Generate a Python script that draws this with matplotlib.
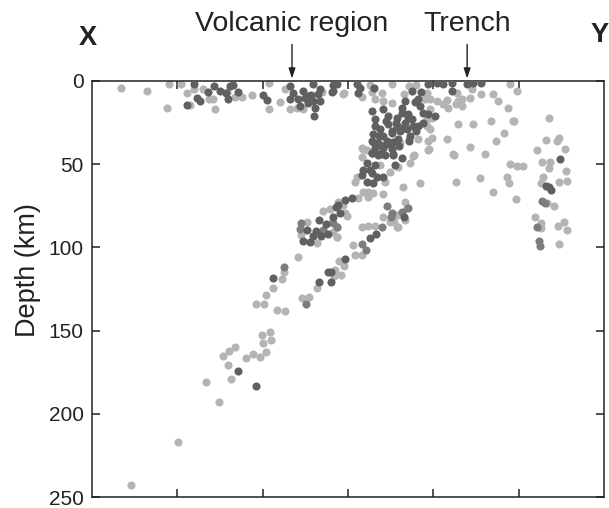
import matplotlib
matplotlib.use("Agg")
import matplotlib.pyplot as plt

plt.rcParams['font.family'] = ['Liberation Sans', 'DejaVu Sans']

# distance along profile (km) and depth (km)
light_x = [17, 32, 45, 44, 52, 55.5, 60, 65, 68.6, 70.7, 72, 79, 84, 88, 94, 104, 104, 110, 113, 116, 120, 123.6, 134.6, 57.4,
           147.7, 147, 158, 163, 164, 170, 166, 176, 186, 190, 183, 196, 214, 208, 222.5, 221.5, 217, 228, 235, 245, 249, 238, 244, 247, 268, 214.5, 216.6, 213,
           170.3, 175.6, 195.1, 198, 202, 205.9, 208.8, 198, 199.1, 196.1,
           196, 198, 199, 197, 191, 186, 180.5, 214.6, 223.4, 233.6, 246.5, 241.4, 236.6, 221.5, 208.2, 197.5, 188.7, 211.7, 230.3, 260.6, 266, 272.3, 273.8, 277.2, 158.6,
           158, 161, 158, 168.8, 179.5, 186.3, 188.3, 197.1, 155.1, 154.1, 171.7, 174.6, 182.4, 192.2, 213.3, 212.1, 159, 161.9, 164.8, 161.9, 170.3, 156, 144.3, 148.3, 183.4, 184.4,
           178.6, 170.7, 179.5, 158, 161.9, 165.8, 143.4, 174.6, 183.4, 177, 179,
           153.1, 158, 154.1, 144.7, 147.7, 145.7, 141.8, 142.4, 143.7, 149.2, 147.3,
           135.5, 139.5, 126.2, 140.5, 122.5, 141.4, 131.7, 143.7, 120.5,
           112.5, 111.2, 106.2, 102, 96.1, 101, 108.2, 113.3,
           131.7, 127.3, 122.9,
           99.8, 104.3, 100, 104.7, 76.6, 80.5, 84, 79.7, 90.2, 94.5, 98.4, 101.8, 81.6, 66.8, 74.4, 50.6, 22.9,
           245, 248.9, 252.4, 227.4, 243.4, 244.4, 235.2, 248.3,
           263.5, 268.4, 268, 277.6, 278.2, 273.8, 264.5, 263.1, 266.8, 270.9, 259.6, 262.9, 263.1, 272.9, 276.6, 278.5, 273.8]
light_d = [4, 6, 2, 16, 2, 7, 5, 4.6, 10.6, 10.8, 16.8, 6.6, 9.6, 9.4, 8.2, 1.2, 16.6, 12.6, 4.6, 16.8, 16.2, 16.8, 6.6, 14.4,
           7.2, 7.8, 9.4, 2.4, 6.6, 7, 10.6, 2, 3, 2.6, 7.8, 7, 7, 11.4, 5, 10, 10.6, 8, 8, 2, 6, 12, 16, 24, 22, 12, 15, 13.8,
           12, 13, 11, 11, 12, 14, 16, 17, 22, 22.7,
           27, 29, 34, 36, 35, 35, 37, 26, 26, 24, 24, 31, 36, 39.5, 35, 41, 44.7, 44, 44, 41.5, 35.5, 36, 34, 40.7, 41,
           40.5, 41.5, 45.5, 50.5, 51.5, 49.5, 45, 41.5, 57.5, 60.5, 60.5, 54.5, 63.5, 61.5, 60.5, 44.5, 66.5, 66.5, 67.5, 69.5, 68, 70.5, 72.5, 79.5, 72.5, 76.5,
           80.5, 81.5, 87.5, 88, 87, 87, 87.5, 84.5, 83.5, 85, 88,
           98.5, 104.5, 104.5, 108, 111, 116.5, 117, 113.5, 93.5, 81, 74.5,
           78, 77, 84.5, 84.5, 92.5, 90.5, 97.5, 94, 105.5,
           115, 119, 124.5, 128.5, 134, 134, 137.5, 138.5,
           124.5, 130, 130.5,
           152.5, 151, 157.5, 155.5, 165, 162, 160, 170.5, 166.5, 164, 166, 163, 179, 181, 193, 217, 242.5,
           50, 51, 51, 58.5, 57.5, 61, 67, 71,
           48.5, 48.5, 52, 54, 60, 60.5, 57.5, 61, 73.5, 75, 81.5, 85.5, 88.5, 87, 84.5, 89.5, 98]

mid_x = [173, 175.6, 181.5, 185.4, 169.8, 175, 158.4, 160.6, 141.4, 143.7, 122.3, 121.9, 135.2, 112.5, 125.4,
         263.9, 265.4, 260.6, 262.1, 262.5]
mid_d = [75, 79.5, 78.5, 76.5, 88, 81.5, 98, 101.5, 85.5, 88, 85.5, 89, 89.5, 111.5, 134,
         72, 73.5, 87.5, 96, 99]

dark_x = [59.8, 55.5, 61.5, 63.3, 68, 71.5, 75, 78.3, 79.7, 80.9, 82.6, 85.6, 100.2, 102.4, 116, 116, 117.8, 120.7, 123.6, 126.6,
          129.5, 129.5, 132.4, 133.6, 130.7, 130.1, 133.6, 126.6, 121.9, 143.4, 140.6, 124.8, 128.3,
          141, 141, 155, 157, 156, 165, 187.5, 192.6, 197, 202, 205.7, 211, 211, 219.6, 223, 228,
          183.4, 181.5, 189.3, 191.2, 192.2, 193.8, 197.1, 201,
          163.9, 165.8, 170.5, 173.6, 178.6, 181.5, 185.3, 187.3, 183.4, 178.6, 173.6, 168.8, 165.8, 164.8, 170.7, 175.6, 180.5, 184.4,
          188.3, 191.2, 186.3, 179.5, 172.7, 167.8, 163.9, 165.8, 170.7, 175.6, 163.9, 168.8, 176.6,
          178, 182, 176, 172, 168, 174, 180, 186, 190, 194, 185,
          164.8, 168.8, 172.7, 176.6, 163.9, 167.8, 171.7, 176.6, 181.5, 161, 165.8, 162.9, 177.6, 159, 158, 163.9, 166.8, 170.7, 161, 164.8,
          148.3, 152.2, 144.3, 141.4, 145.3, 143,
          182.8, 166.4, 162.9, 148.3, 139.9, 140,
          133.2, 137.1, 125.8, 131.3, 129.3, 134, 138.1, 123.8, 127.7, 105.9, 138.5, 133.2,
          85.7, 96.1,
          274.2, 267.8, 266, 269]
dark_d = [1.8, 14.6, 10.2, 12, 6.6, 3, 6, 7, 10.8, 3, 2.6, 6.6, 8.2, 11.4, 3, 10.8, 7, 10.8, 6, 9,
          2, 12, 7.8, 12, 16, 21, 4.8, 13.2, 15, 1.8, 6.6, 10.2, 8.4,
          2.6, 6, 2, 4, 7, 4, 6, 6.6, 2, 1.4, 2, 1.4, 6, 2, 1.4, 1.4,
          12, 16, 12.6, 11, 15, 19.4, 20, 21,
          18, 23, 17, 21, 22, 19, 20, 23, 25, 27, 26, 29, 27, 32, 33, 31, 30, 29,
          27, 27, 33, 35, 36, 37, 36, 40, 40, 41, 43, 44, 44,
          25, 28, 30, 24, 33, 38, 39, 36, 30, 25, 22,
          36.5, 38.5, 37.4, 36.5, 43.5, 44.5, 44.5, 44.5, 46.5, 49.5, 50.5, 53.5, 50.5, 53.5, 56.5, 55.5, 57.5, 57.5, 60.5, 61.5,
          71.5, 70.5, 74.5, 81.5, 79.5, 76,
          81.5, 92, 94.5, 107, 114.5, 120.5,
          83.5, 86, 89.5, 90, 93, 93, 92, 96, 97, 118.5, 114.5, 121,
          174, 183,
          47, 64, 63, 65.5]

y_ticks = [0, 50, 100, 150, 200, 250]
x_ticks = [50, 100, 150, 200, 250]

volcanic_x = 117.2
trench_x = 219.8

fig = plt.figure(figsize=(6.09, 5.08), dpi=100)
ax = fig.add_axes([92/609, 1-497/508, 512/609, 416/508])

ms = 34
ax.scatter(light_x, light_d, s=ms, c='#b4b4b4', linewidths=0, zorder=2)
ax.scatter(mid_x, mid_d, s=ms, c='#7d7d7d', linewidths=0, zorder=3)
ax.scatter(dark_x, dark_d, s=ms, c='#606060', linewidths=0, zorder=4)

ax.set_xlim(0, 300)
ax.set_ylim(250, 0)
ax.set_xticks(x_ticks)
ax.set_xticklabels([])
ax.set_yticks(y_ticks)
ax.tick_params(axis='both', direction='in', length=6, width=1.1, color='#222222',
               top=True, right=True, labelsize=15, pad=6, labelcolor='#222222')
ax.tick_params(axis='y', which='both', labelright=False)
for sp in ax.spines.values():
    sp.set_linewidth(1.1)
    sp.set_color('#222222')
ax.set_ylabel('Depth (km)', fontsize=19.5, color='#222222')
ax.yaxis.set_label_coords(-0.10, 0.546)

for label, xv in [('Volcanic region', volcanic_x), ('Trench', trench_x)]:
    ax.annotate('', xy=(xv, -1.5), xytext=(xv, -22), annotation_clip=False,
                arrowprops=dict(arrowstyle='-|>,head_length=0.6,head_width=0.2', color='#222222', lw=1.0,
                                shrinkA=0, shrinkB=0))
    ax.text(xv, -34, label, ha='center', va='center', fontsize=20.5, color='#222222', clip_on=False)

fig.text(88/609, 1-38/508, 'X', ha='center', va='center', fontsize=19.5, fontweight='bold', color='#222222')
fig.text(591/609, 1-35/508, 'Y', ha='left', va='center', fontsize=19.5, fontweight='bold', color='#222222')

fig.savefig('out.png', dpi=100)
